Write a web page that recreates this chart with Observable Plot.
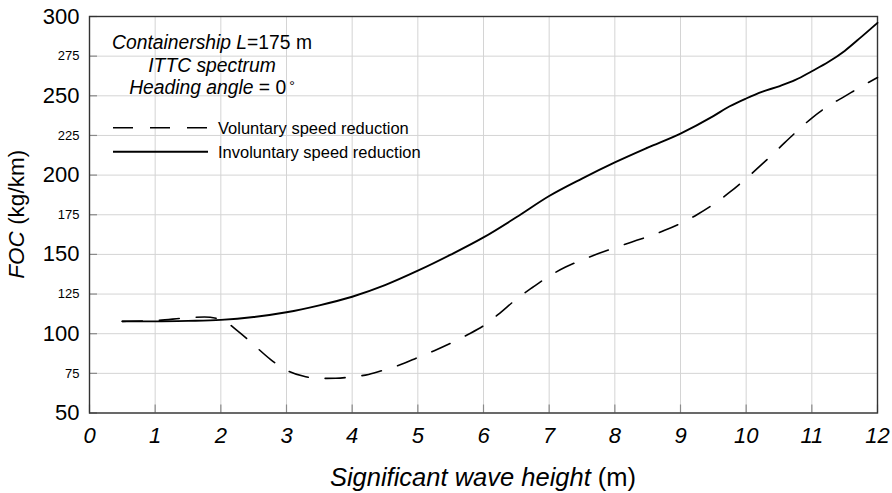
<!DOCTYPE html>
<html>
<head>
<meta charset="utf-8">
<script src="https://cdn.jsdelivr.net/npm/d3@7"></script>
<script src="https://cdn.jsdelivr.net/npm/@observablehq/plot@0.6"></script>
<style>
  html, body { margin: 0; padding: 0; background: #fff; }
  #chart svg { display: block; }
  g[aria-label="x-axis tick label"] text { font-style: italic; }
</style>
</head>
<body>
<div id="chart"></div>
<script>
// ---- data ----
const xTicks = [0, 1, 2, 3, 4, 5, 6, 7, 8, 9, 10, 11, 12];
const yMajor = [50, 100, 150, 200, 250, 300];
const yMinor = [75, 125, 175, 225, 275];

const involuntaryX = [0.5, 1.0, 1.5, 2.0, 2.5, 3.0, 3.5, 4.0, 4.5, 5.0, 5.5, 6.0, 6.5, 7.0, 7.5, 8.0, 8.5, 9.0, 9.5, 9.75, 10.0, 10.25, 10.5, 10.75, 11.0, 11.25, 11.5, 11.75, 12.0];
const involuntaryY = [107.8, 107.8, 108.1, 108.7, 110.5, 113.5, 117.9, 123.3, 130.6, 139.7, 149.8, 160.7, 173.4, 186.8, 197.8, 208.0, 217.3, 226.2, 237.2, 243.4, 248.3, 252.6, 256.0, 260.0, 265.5, 271.3, 278.3, 287.0, 296.0];

const voluntaryX = [0.5, 1.0, 1.5, 1.75, 2.0, 2.25, 2.5, 2.75, 3.0, 3.25, 3.5, 3.75, 4.0, 4.25, 4.5, 4.75, 5.0, 5.25, 5.5, 5.75, 6.0, 6.25, 6.5, 6.75, 7.0, 7.25, 7.5, 7.75, 8.0, 8.25, 8.5, 8.75, 9.0, 9.25, 9.5, 9.75, 10.0, 10.25, 10.5, 10.75, 11.0, 11.25, 11.5, 11.75, 12.0];
const voluntaryY = [107.8, 108.3, 110.0, 110.5, 109.0, 102.0, 93.0, 84.0, 77.0, 73.3, 71.8, 71.9, 72.8, 74.3, 77.3, 80.7, 85.0, 89.3, 94.0, 99.2, 105.0, 113.0, 121.8, 129.3, 136.3, 142.0, 146.5, 150.5, 154.2, 157.7, 161.2, 165.0, 169.5, 175.0, 181.5, 189.2, 197.9, 207.2, 217.0, 226.8, 236.0, 243.6, 249.6, 255.8, 261.5];

const legendLabels = ["Voluntary speed reduction", "Involuntary speed reduction"];

// ---- tables ----
const involuntary = involuntaryX.map((x, i) => ({x, y: involuntaryY[i]}));
const voluntary = voluntaryX.map((x, i) => ({x, y: voluntaryY[i]}));
const yAll = [...yMajor, ...yMinor];

const W = 892, H = 493;
const mL = 89, mR = 15, mT = 16, mB = 80.5;
const frameW = W - mL - mR, frameH = H - mT - mB;
const FONT = "'Liberation Sans', Arial, Helvetica, sans-serif";

const chart = Plot.plot({
  width: W, height: H,
  marginLeft: mL, marginRight: mR, marginTop: mT, marginBottom: mB,
  style: {fontFamily: FONT, background: "#fff", color: "#000"},
  x: {domain: [0, 12], label: null},
  y: {domain: [50, 300], label: null},
  marks: [
    Plot.gridX(xTicks, {stroke: "#d4d4d4", strokeOpacity: 1, strokeWidth: 1}),
    Plot.gridY(yAll, {stroke: "#d4d4d4", strokeOpacity: 1, strokeWidth: 1}),
    Plot.ruleY(yAll, {stroke: "#8a8a8a", strokeWidth: 1.2, insetRight: frameW - 8}),
    Plot.ruleX(xTicks, {stroke: "#8a8a8a", strokeWidth: 1.2, insetTop: frameH - 8}),
    Plot.frame({stroke: "#333", strokeWidth: 1.4}),
    Plot.line(voluntary, {x: "x", y: "y", curve: "monotone-x", stroke: "#000", strokeWidth: 1.6, strokeDasharray: "20,17"}),
    Plot.line(involuntary, {x: "x", y: "y", curve: "monotone-x", stroke: "#000", strokeWidth: 1.9}),
    Plot.axisY(yMajor, {tickSize: 0, tickPadding: 10, fontSize: 22, label: null}),
    Plot.axisY(yMinor, {tickSize: 0, tickPadding: 10, fontSize: 13, label: null}),
    Plot.axisX(xTicks, {tickSize: 0, tickPadding: 14, fontSize: 22, label: null})
  ]
});
document.getElementById("chart").appendChild(chart);

// ---- annotations, legend and axis titles ----
const svg = d3.select(chart);
const g = svg.append("g").attr("font-family", FONT).attr("fill", "#000");

// axis titles
const yt = g.append("text")
  .attr("transform", `translate(24,${mT + frameH / 2}) rotate(-90)`)
  .attr("text-anchor", "middle").attr("font-size", 22.5);
yt.append("tspan").attr("font-style", "italic").text("FOC");
yt.append("tspan").text(" (kg/km)");

const xt = g.append("text")
  .attr("x", mL + frameW / 2).attr("y", 486)
  .attr("text-anchor", "middle").attr("font-size", 25.5);
xt.append("tspan").attr("font-style", "italic").text("Significant wave height");
xt.append("tspan").text(" (m)");

// annotation block
const cx = 212;
const a1 = g.append("text").attr("x", cx).attr("y", 49).attr("text-anchor", "middle").attr("font-size", 19.3);
a1.append("tspan").attr("font-style", "italic").text("Containership L");
a1.append("tspan").text("=175 m");
g.append("text").attr("x", cx).attr("y", 72).attr("text-anchor", "middle").attr("font-size", 19.3)
  .attr("font-style", "italic").text("ITTC spectrum");
const a3 = g.append("text").attr("x", cx).attr("y", 94).attr("text-anchor", "middle").attr("font-size", 19.3);
a3.append("tspan").attr("font-style", "italic").text("Heading angle");
a3.append("tspan").text(" = 0");
a3.append("tspan").attr("dx", 3).attr("font-size", 14).attr("dy", -3).text("°");

// legend
const legY = [127.7, 151.7];
const legDash = ["20,17", null];
const legW = [1.6, 1.9];
legendLabels.forEach((lab, i) => {
  const ln = g.append("line").attr("x1", 113).attr("x2", 208).attr("y1", legY[i]).attr("y2", legY[i])
    .attr("stroke", "#000").attr("stroke-width", legW[i]);
  if (legDash[i]) ln.attr("stroke-dasharray", legDash[i]);
  g.append("text").attr("x", 218).attr("y", legY[i] + 6).attr("text-anchor", "start")
    .attr("font-size", 16.5).text(lab);
});
</script>
</body>
</html>
